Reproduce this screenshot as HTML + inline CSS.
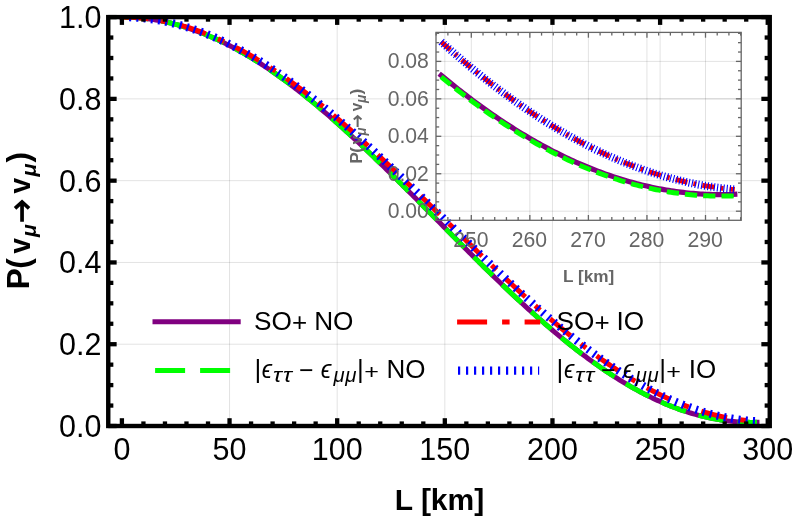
<!DOCTYPE html>
<html><head><meta charset="utf-8"><title>Chart</title>
<style>html,body{margin:0;padding:0;background:#fff;}body{width:793px;height:518px;overflow:hidden;font-family:"Liberation Sans",sans-serif;}</style></head>
<body>
<svg width="793" height="518" viewBox="0 0 793 518" style="display:block;will-change:transform" font-family="'Liberation Sans', sans-serif">
<defs><clipPath id="cm"><rect x="106" y="15" width="666" height="413"/></clipPath></defs>
<rect width="100%" height="100%" fill="#fff"/>
<g stroke="#000" stroke-opacity="0.115" stroke-width="1" fill="none"><line x1="229.54" y1="17.10" x2="229.54" y2="426.00"/><line x1="337.18" y1="17.10" x2="337.18" y2="426.00"/><line x1="444.82" y1="17.10" x2="444.82" y2="426.00"/><line x1="552.46" y1="17.10" x2="552.46" y2="426.00"/><line x1="660.10" y1="17.10" x2="660.10" y2="426.00"/><line x1="108.25" y1="344.22" x2="769.75" y2="344.22"/><line x1="108.25" y1="262.44" x2="769.75" y2="262.44"/><line x1="108.25" y1="180.66" x2="769.75" y2="180.66"/><line x1="108.25" y1="98.88" x2="769.75" y2="98.88"/></g>
<g fill="none" stroke-linejoin="round" clip-path="url(#cm)">
<path d="M121.90,17.10 L124.02,17.11 L126.13,17.15 L128.25,17.20 L130.37,17.28 L132.48,17.38 L134.60,17.51 L136.72,17.65 L138.84,17.82 L140.95,18.01 L143.07,18.23 L145.19,18.47 L147.30,18.72 L149.42,19.01 L151.54,19.31 L153.65,19.64 L155.77,19.98 L157.89,20.36 L160.00,20.75 L162.12,21.16 L164.24,21.60 L166.36,22.06 L168.47,22.54 L170.59,23.05 L172.71,23.57 L174.82,24.12 L176.94,24.69 L179.06,25.28 L181.17,25.89 L183.29,26.52 L185.41,27.18 L187.52,27.86 L189.64,28.56 L191.76,29.28 L193.88,30.02 L195.99,30.78 L198.11,31.56 L200.23,32.37 L202.34,33.19 L204.46,34.04 L206.58,34.90 L208.69,35.79 L210.81,36.70 L212.93,37.63 L215.04,38.57 L217.16,39.54 L219.28,40.53 L221.40,41.54 L223.51,42.57 L225.63,43.62 L227.75,44.69 L229.86,45.77 L231.98,46.88 L234.10,48.01 L236.21,49.15 L238.33,50.32 L240.45,51.50 L242.56,52.70 L244.68,53.92 L246.80,55.16 L248.92,56.42 L251.03,57.69 L253.15,58.99 L255.27,60.30 L257.38,61.63 L259.50,62.97 L261.62,64.34 L263.73,65.72 L265.85,67.12 L267.97,68.53 L270.08,69.97 L272.20,71.42 L274.32,72.88 L276.44,74.36 L278.55,75.86 L280.67,77.38 L282.79,78.91 L284.90,80.45 L287.02,82.02 L289.14,83.59 L291.25,85.19 L293.37,86.79 L295.49,88.41 L297.60,90.05 L299.72,91.70 L301.84,93.37 L303.96,95.05 L306.07,96.74 L308.19,98.45 L310.31,100.17 L312.42,101.90 L314.54,103.65 L316.66,105.41 L318.77,107.18 L320.89,108.97 L323.01,110.77 L325.12,112.57 L327.24,114.40 L329.36,116.23 L331.48,118.08 L333.59,119.93 L335.71,121.80 L337.83,123.68 L339.94,125.57 L342.06,127.47 L344.18,129.38 L346.29,131.30 L348.41,133.23 L350.53,135.17 L352.64,137.11 L354.76,139.07 L356.88,141.04 L359.00,143.01 L361.11,145.00 L363.23,146.99 L365.35,148.99 L367.46,151.00 L369.58,153.02 L371.70,155.04 L373.81,157.07 L375.93,159.11 L378.05,161.16 L380.16,163.21 L382.28,165.26 L384.40,167.33 L386.51,169.40 L388.63,171.47 L390.75,173.55 L392.87,175.64 L394.98,177.73 L397.10,179.83 L399.22,181.92 L401.33,184.03 L403.45,186.14 L405.57,188.25 L407.68,190.36 L409.80,192.48 L411.92,194.60 L414.03,196.73 L416.15,198.85 L418.27,200.98 L420.39,203.12 L422.50,205.25 L424.62,207.38 L426.74,209.52 L428.85,211.66 L430.97,213.79 L433.09,215.93 L435.20,218.07 L437.32,220.21 L439.44,222.35 L441.55,224.49 L443.67,226.63 L445.79,228.77 L447.91,230.90 L450.02,233.04 L452.14,235.17 L454.26,237.31 L456.37,239.44 L458.49,241.56 L460.61,243.69 L462.72,245.81 L464.84,247.93 L466.96,250.05 L469.07,252.16 L471.19,254.27 L473.31,256.38 L475.43,258.48 L477.54,260.58 L479.66,262.67 L481.78,264.76 L483.89,266.85 L486.01,268.92 L488.13,271.00 L490.24,273.06 L492.36,275.12 L494.48,277.18 L496.59,279.23 L498.71,281.27 L500.83,283.30 L502.95,285.33 L505.06,287.35 L507.18,289.37 L509.30,291.37 L511.41,293.37 L513.53,295.36 L515.65,297.34 L517.76,299.31 L519.88,301.27 L522.00,303.23 L524.11,305.17 L526.23,307.11 L528.35,309.03 L530.47,310.95 L532.58,312.85 L534.70,314.75 L536.82,316.63 L538.93,318.51 L541.05,320.37 L543.17,322.22 L545.28,324.06 L547.40,325.89 L549.52,327.71 L551.63,329.51 L553.75,331.30 L555.87,333.08 L557.99,334.85 L560.10,336.60 L562.22,338.34 L564.34,340.07 L566.45,341.79 L568.57,343.49 L570.69,345.18 L572.80,346.85 L574.92,348.51 L577.04,350.15 L579.15,351.78 L581.27,353.40 L583.39,355.00 L585.51,356.58 L587.62,358.15 L589.74,359.71 L591.86,361.25 L593.97,362.77 L596.09,364.28 L598.21,365.77 L600.32,367.25 L602.44,368.71 L604.56,370.15 L606.67,371.57 L608.79,372.98 L610.91,374.37 L613.03,375.75 L615.14,377.10 L617.26,378.44 L619.38,379.76 L621.49,381.07 L623.61,382.35 L625.73,383.62 L627.84,384.87 L629.96,386.10 L632.08,387.31 L634.19,388.51 L636.31,389.68 L638.43,390.84 L640.55,391.97 L642.66,393.09 L644.78,394.19 L646.90,395.27 L649.01,396.33 L651.13,397.37 L653.25,398.39 L655.36,399.39 L657.48,400.37 L659.60,401.33 L661.71,402.27 L663.83,403.19 L665.95,404.08 L668.07,404.96 L670.18,405.82 L672.30,406.66 L674.42,407.47 L676.53,408.27 L678.65,409.04 L680.77,409.79 L682.88,410.53 L685.00,411.24 L687.12,411.93 L689.23,412.59 L691.35,413.24 L693.47,413.86 L695.59,414.47 L697.70,415.05 L699.82,415.61 L701.94,416.14 L704.05,416.66 L706.17,417.15 L708.29,417.63 L710.40,418.08 L712.52,418.50 L714.64,418.91 L716.75,419.29 L718.87,419.65 L720.99,419.99 L723.11,420.31 L725.22,420.60 L727.34,420.87 L729.46,421.12 L731.57,421.35 L733.69,421.55 L735.81,421.74 L737.92,421.90 L740.04,422.03 L742.16,422.15 L744.27,422.24 L746.39,422.31 L748.51,422.35 L750.63,422.38 L752.74,422.38 L754.86,422.36 L756.98,422.31" stroke="#800080" stroke-width="5" stroke-linecap="square"/>
<path d="M121.90,17.10 L124.02,17.11 L126.13,17.15 L128.25,17.20 L130.37,17.28 L132.48,17.38 L134.60,17.51 L136.72,17.65 L138.84,17.82 L140.95,18.01 L143.07,18.23 L145.19,18.47 L147.30,18.72 L149.42,19.01 L151.54,19.31 L153.65,19.64 L155.77,19.98 L157.89,20.36 L160.00,20.75 L162.12,21.16 L164.24,21.60 L166.36,22.06 L168.47,22.54 L170.59,23.05 L172.71,23.57 L174.82,24.12 L176.94,24.69 L179.06,25.28 L181.17,25.89 L183.29,26.52 L185.41,27.18 L187.52,27.86 L189.64,28.56 L191.76,29.28 L193.88,30.02 L195.99,30.78 L198.11,31.56 L200.23,32.37 L202.34,33.19 L204.46,34.04 L206.58,34.90 L208.69,35.79 L210.81,36.70 L212.93,37.63 L215.04,38.57 L217.16,39.54 L219.28,40.53 L221.40,41.54 L223.51,42.57 L225.63,43.62 L227.75,44.69 L229.86,45.77 L231.98,46.88 L234.10,48.01 L236.21,49.15 L238.33,50.32 L240.45,51.50 L242.56,52.70 L244.68,53.92 L246.80,55.16 L248.92,56.42 L251.03,57.69 L253.15,58.99 L255.27,60.30 L257.38,61.63 L259.50,62.97 L261.62,64.34 L263.73,65.72 L265.85,67.12 L267.97,68.53 L270.08,69.97 L272.20,71.42 L274.32,72.88 L276.44,74.36 L278.55,75.86 L280.67,77.38 L282.79,78.91 L284.90,80.45 L287.02,82.02 L289.14,83.59 L291.25,85.19 L293.37,86.79 L295.49,88.41 L297.60,90.05 L299.72,91.70 L301.84,93.37 L303.96,95.05 L306.07,96.74 L308.19,98.45 L310.31,100.17 L312.42,101.90 L314.54,103.65 L316.66,105.41 L318.77,107.18 L320.89,108.97 L323.01,110.77 L325.12,112.57 L327.24,114.40 L329.36,116.23 L331.48,118.08 L333.59,119.93 L335.71,121.80 L337.83,123.68 L339.94,125.57 L342.06,127.47 L344.18,129.38 L346.29,131.30 L348.41,133.23 L350.53,135.17 L352.64,137.11 L354.76,139.07 L356.88,141.04 L359.00,143.01 L361.11,145.00 L363.23,146.99 L365.35,148.99 L367.46,151.00 L369.58,153.02 L371.70,155.04 L373.81,157.07 L375.93,159.11 L378.05,161.16 L380.16,163.21 L382.28,165.26 L384.40,167.33 L386.51,169.40 L388.63,171.47 L390.75,173.55 L392.87,175.64 L394.98,177.73 L397.10,179.83 L399.22,181.92 L401.33,184.03 L403.45,186.14 L405.57,188.25 L407.68,190.36 L409.80,192.48 L411.92,194.60 L414.03,196.73 L416.15,198.85 L418.27,200.98 L420.39,203.12 L422.50,205.25 L424.62,207.38 L426.74,209.52 L428.85,211.66 L430.97,213.79 L433.09,215.93 L435.20,218.07 L437.32,220.21 L439.44,222.35 L441.55,224.49 L443.67,226.63 L445.79,228.77 L447.91,230.90 L450.02,233.04 L452.14,235.17 L454.26,237.31 L456.37,239.44 L458.49,241.56 L460.61,243.69 L462.72,245.81 L464.84,247.93 L466.96,250.05 L469.07,252.16 L471.19,254.27 L473.31,256.38 L475.43,258.48 L477.54,260.58 L479.66,262.67 L481.78,264.76 L483.89,266.85 L486.01,268.92 L488.13,271.00 L490.24,273.06 L492.36,275.12 L494.48,277.18 L496.59,279.23 L498.71,281.27 L500.83,283.30 L502.95,285.33 L505.06,287.35 L507.18,289.37 L509.30,291.37 L511.41,293.37 L513.53,295.36 L515.65,297.34 L517.76,299.31 L519.88,301.27 L522.00,303.23 L524.11,305.17 L526.23,307.11 L528.35,309.03 L530.47,310.95 L532.58,312.85 L534.70,314.75 L536.82,316.63 L538.93,318.51 L541.05,320.37 L543.17,322.22 L545.28,324.06 L547.40,325.89 L549.52,327.71 L551.63,329.51 L553.75,331.30 L555.87,333.08 L557.99,334.85 L560.10,336.60 L562.22,338.34 L564.34,340.07 L566.45,341.79 L568.57,343.49 L570.69,345.18 L572.80,346.85 L574.92,348.51 L577.04,350.15 L579.15,351.78 L581.27,353.40 L583.39,355.00 L585.51,356.58 L587.62,358.15 L589.74,359.71 L591.86,361.25 L593.97,362.77 L596.09,364.28 L598.21,365.77 L600.32,367.25 L602.44,368.71 L604.56,370.15 L606.67,371.57 L608.79,372.98 L610.91,374.37 L613.03,375.75 L615.14,377.10 L617.26,378.44 L619.38,379.76 L621.49,381.07 L623.61,382.35 L625.73,383.62 L627.84,384.87 L629.96,386.10 L632.08,387.31 L634.19,388.51 L636.31,389.68 L638.43,390.84 L640.55,391.97 L642.66,393.09 L644.78,394.19 L646.90,395.27 L649.01,396.33 L651.13,397.37 L653.25,398.39 L655.36,399.39 L657.48,400.37 L659.60,401.33 L661.71,402.27 L663.83,403.19 L665.95,404.08 L668.07,404.96 L670.18,405.82 L672.30,406.66 L674.42,407.47 L676.53,408.27 L678.65,409.04 L680.77,409.79 L682.88,410.53 L685.00,411.24 L687.12,411.93 L689.23,412.59 L691.35,413.24 L693.47,413.86 L695.59,414.47 L697.70,415.05 L699.82,415.61 L701.94,416.14 L704.05,416.66 L706.17,417.15 L708.29,417.63 L710.40,418.08 L712.52,418.50 L714.64,418.91 L716.75,419.29 L718.87,419.65 L720.99,419.99 L723.11,420.31 L725.22,420.60 L727.34,420.87 L729.46,421.12 L731.57,421.35 L733.69,421.55 L735.81,421.74 L737.92,421.90 L740.04,422.03 L742.16,422.15 L744.27,422.24 L746.39,422.31 L748.51,422.35 L750.63,422.38 L752.74,422.38 L754.86,422.36 L756.98,422.31" stroke="#00ff00" stroke-width="5" stroke-dasharray="26.5 13.2"/>
<path d="M121.90,17.10 L124.02,17.11 L126.13,17.14 L128.25,17.20 L130.37,17.27 L132.48,17.37 L134.60,17.49 L136.72,17.63 L138.84,17.79 L140.95,17.97 L143.07,18.17 L145.19,18.40 L147.30,18.64 L149.42,18.91 L151.54,19.20 L153.65,19.51 L155.77,19.84 L157.89,20.20 L160.00,20.57 L162.12,20.97 L164.24,21.38 L166.36,21.82 L168.47,22.28 L170.59,22.76 L172.71,23.26 L174.82,23.78 L176.94,24.32 L179.06,24.88 L181.17,25.46 L183.29,26.07 L185.41,26.69 L187.52,27.34 L189.64,28.00 L191.76,28.69 L193.88,29.39 L195.99,30.12 L198.11,30.86 L200.23,31.63 L202.34,32.41 L204.46,33.22 L206.58,34.04 L208.69,34.89 L210.81,35.75 L212.93,36.64 L215.04,37.54 L217.16,38.47 L219.28,39.41 L221.40,40.37 L223.51,41.35 L225.63,42.35 L227.75,43.37 L229.86,44.40 L231.98,45.46 L234.10,46.53 L236.21,47.62 L238.33,48.73 L240.45,49.86 L242.56,51.01 L244.68,52.17 L246.80,53.35 L248.92,54.55 L251.03,55.77 L253.15,57.01 L255.27,58.26 L257.38,59.53 L259.50,60.81 L261.62,62.11 L263.73,63.43 L265.85,64.77 L267.97,66.12 L270.08,67.49 L272.20,68.88 L274.32,70.28 L276.44,71.69 L278.55,73.13 L280.67,74.57 L282.79,76.04 L284.90,77.51 L287.02,79.01 L289.14,80.52 L291.25,82.04 L293.37,83.58 L295.49,85.13 L297.60,86.70 L299.72,88.28 L301.84,89.87 L303.96,91.48 L306.07,93.10 L308.19,94.74 L310.31,96.38 L312.42,98.05 L314.54,99.72 L316.66,101.41 L318.77,103.11 L320.89,104.82 L323.01,106.54 L325.12,108.28 L327.24,110.03 L329.36,111.79 L331.48,113.56 L333.59,115.34 L335.71,117.13 L337.83,118.94 L339.94,120.75 L342.06,122.58 L344.18,124.41 L346.29,126.26 L348.41,128.11 L350.53,129.98 L352.64,131.85 L354.76,133.74 L356.88,135.63 L359.00,137.53 L361.11,139.44 L363.23,141.36 L365.35,143.29 L367.46,145.22 L369.58,147.17 L371.70,149.12 L373.81,151.07 L375.93,153.04 L378.05,155.01 L380.16,156.99 L382.28,158.98 L384.40,160.97 L386.51,162.97 L388.63,164.97 L390.75,166.98 L392.87,169.00 L394.98,171.02 L397.10,173.05 L399.22,175.08 L401.33,177.12 L403.45,179.16 L405.57,181.20 L407.68,183.25 L409.80,185.30 L411.92,187.36 L414.03,189.42 L416.15,191.48 L418.27,193.55 L420.39,195.62 L422.50,197.69 L424.62,199.76 L426.74,201.84 L428.85,203.91 L430.97,205.99 L433.09,208.07 L435.20,210.15 L437.32,212.24 L439.44,214.32 L441.55,216.40 L443.67,218.49 L445.79,220.57 L447.91,222.66 L450.02,224.74 L452.14,226.82 L454.26,228.91 L456.37,230.99 L458.49,233.07 L460.61,235.15 L462.72,237.22 L464.84,239.30 L466.96,241.37 L469.07,243.44 L471.19,245.51 L473.31,247.57 L475.43,249.64 L477.54,251.70 L479.66,253.75 L481.78,255.80 L483.89,257.85 L486.01,259.90 L488.13,261.94 L490.24,263.97 L492.36,266.00 L494.48,268.03 L496.59,270.05 L498.71,272.06 L500.83,274.07 L502.95,276.07 L505.06,278.07 L507.18,280.06 L509.30,282.05 L511.41,284.02 L513.53,286.00 L515.65,287.96 L517.76,289.92 L519.88,291.87 L522.00,293.81 L524.11,295.74 L526.23,297.67 L528.35,299.58 L530.47,301.49 L532.58,303.39 L534.70,305.28 L536.82,307.16 L538.93,309.04 L541.05,310.90 L543.17,312.75 L545.28,314.60 L547.40,316.43 L549.52,318.25 L551.63,320.06 L553.75,321.87 L555.87,323.66 L557.99,325.44 L560.10,327.21 L562.22,328.96 L564.34,330.71 L566.45,332.44 L568.57,334.16 L570.69,335.87 L572.80,337.57 L574.92,339.25 L577.04,340.92 L579.15,342.58 L581.27,344.23 L583.39,345.86 L585.51,347.48 L587.62,349.08 L589.74,350.68 L591.86,352.25 L593.97,353.82 L596.09,355.36 L598.21,356.90 L600.32,358.42 L602.44,359.92 L604.56,361.41 L606.67,362.89 L608.79,364.35 L610.91,365.79 L613.03,367.22 L615.14,368.64 L617.26,370.03 L619.38,371.41 L621.49,372.78 L623.61,374.13 L625.73,375.46 L627.84,376.78 L629.96,378.07 L632.08,379.36 L634.19,380.62 L636.31,381.87 L638.43,383.10 L640.55,384.31 L642.66,385.51 L644.78,386.69 L646.90,387.85 L649.01,388.99 L651.13,390.12 L653.25,391.22 L655.36,392.31 L657.48,393.38 L659.60,394.43 L661.71,395.46 L663.83,396.48 L665.95,397.47 L668.07,398.45 L670.18,399.40 L672.30,400.34 L674.42,401.26 L676.53,402.16 L678.65,403.04 L680.77,403.90 L682.88,404.74 L685.00,405.56 L687.12,406.36 L689.23,407.14 L691.35,407.91 L693.47,408.65 L695.59,409.37 L697.70,410.07 L699.82,410.75 L701.94,411.41 L704.05,412.05 L706.17,412.67 L708.29,413.27 L710.40,413.85 L712.52,414.41 L714.64,414.94 L716.75,415.46 L718.87,415.95 L720.99,416.43 L723.11,416.88 L725.22,417.31 L727.34,417.73 L729.46,418.12 L731.57,418.49 L733.69,418.83 L735.81,419.16 L737.92,419.47 L740.04,419.75 L742.16,420.01 L744.27,420.26 L746.39,420.48 L748.51,420.67 L750.63,420.85 L752.74,421.01 L754.86,421.14 L756.98,421.26" stroke="#ff0000" stroke-width="5" stroke-dasharray="26.5 13.2 6.6 13.2"/>
<path d="M121.90,17.10 L124.02,17.11 L126.13,17.14 L128.25,17.20 L130.37,17.27 L132.48,17.37 L134.60,17.49 L136.72,17.63 L138.84,17.79 L140.95,17.97 L143.07,18.17 L145.19,18.40 L147.30,18.64 L149.42,18.91 L151.54,19.20 L153.65,19.51 L155.77,19.84 L157.89,20.20 L160.00,20.57 L162.12,20.97 L164.24,21.38 L166.36,21.82 L168.47,22.28 L170.59,22.76 L172.71,23.26 L174.82,23.78 L176.94,24.32 L179.06,24.88 L181.17,25.46 L183.29,26.07 L185.41,26.69 L187.52,27.34 L189.64,28.00 L191.76,28.69 L193.88,29.39 L195.99,30.12 L198.11,30.86 L200.23,31.63 L202.34,32.41 L204.46,33.22 L206.58,34.04 L208.69,34.89 L210.81,35.75 L212.93,36.64 L215.04,37.54 L217.16,38.47 L219.28,39.41 L221.40,40.37 L223.51,41.35 L225.63,42.35 L227.75,43.37 L229.86,44.40 L231.98,45.46 L234.10,46.53 L236.21,47.62 L238.33,48.73 L240.45,49.86 L242.56,51.01 L244.68,52.17 L246.80,53.35 L248.92,54.55 L251.03,55.77 L253.15,57.01 L255.27,58.26 L257.38,59.53 L259.50,60.81 L261.62,62.11 L263.73,63.43 L265.85,64.77 L267.97,66.12 L270.08,67.49 L272.20,68.88 L274.32,70.28 L276.44,71.69 L278.55,73.13 L280.67,74.57 L282.79,76.04 L284.90,77.51 L287.02,79.01 L289.14,80.52 L291.25,82.04 L293.37,83.58 L295.49,85.13 L297.60,86.70 L299.72,88.28 L301.84,89.87 L303.96,91.48 L306.07,93.10 L308.19,94.74 L310.31,96.38 L312.42,98.05 L314.54,99.72 L316.66,101.41 L318.77,103.11 L320.89,104.82 L323.01,106.54 L325.12,108.28 L327.24,110.03 L329.36,111.79 L331.48,113.56 L333.59,115.34 L335.71,117.13 L337.83,118.94 L339.94,120.75 L342.06,122.58 L344.18,124.41 L346.29,126.26 L348.41,128.11 L350.53,129.98 L352.64,131.85 L354.76,133.74 L356.88,135.63 L359.00,137.53 L361.11,139.44 L363.23,141.36 L365.35,143.29 L367.46,145.22 L369.58,147.17 L371.70,149.12 L373.81,151.07 L375.93,153.04 L378.05,155.01 L380.16,156.99 L382.28,158.98 L384.40,160.97 L386.51,162.97 L388.63,164.97 L390.75,166.98 L392.87,169.00 L394.98,171.02 L397.10,173.05 L399.22,175.08 L401.33,177.12 L403.45,179.16 L405.57,181.20 L407.68,183.25 L409.80,185.30 L411.92,187.36 L414.03,189.42 L416.15,191.48 L418.27,193.55 L420.39,195.62 L422.50,197.69 L424.62,199.76 L426.74,201.84 L428.85,203.91 L430.97,205.99 L433.09,208.07 L435.20,210.15 L437.32,212.24 L439.44,214.32 L441.55,216.40 L443.67,218.49 L445.79,220.57 L447.91,222.66 L450.02,224.74 L452.14,226.82 L454.26,228.91 L456.37,230.99 L458.49,233.07 L460.61,235.15 L462.72,237.22 L464.84,239.30 L466.96,241.37 L469.07,243.44 L471.19,245.51 L473.31,247.57 L475.43,249.64 L477.54,251.70 L479.66,253.75 L481.78,255.80 L483.89,257.85 L486.01,259.90 L488.13,261.94 L490.24,263.97 L492.36,266.00 L494.48,268.03 L496.59,270.05 L498.71,272.06 L500.83,274.07 L502.95,276.07 L505.06,278.07 L507.18,280.06 L509.30,282.05 L511.41,284.02 L513.53,286.00 L515.65,287.96 L517.76,289.92 L519.88,291.87 L522.00,293.81 L524.11,295.74 L526.23,297.67 L528.35,299.58 L530.47,301.49 L532.58,303.39 L534.70,305.28 L536.82,307.16 L538.93,309.04 L541.05,310.90 L543.17,312.75 L545.28,314.60 L547.40,316.43 L549.52,318.25 L551.63,320.06 L553.75,321.87 L555.87,323.66 L557.99,325.44 L560.10,327.21 L562.22,328.96 L564.34,330.71 L566.45,332.44 L568.57,334.16 L570.69,335.87 L572.80,337.57 L574.92,339.25 L577.04,340.92 L579.15,342.58 L581.27,344.23 L583.39,345.86 L585.51,347.48 L587.62,349.08 L589.74,350.68 L591.86,352.25 L593.97,353.82 L596.09,355.36 L598.21,356.90 L600.32,358.42 L602.44,359.92 L604.56,361.41 L606.67,362.89 L608.79,364.35 L610.91,365.79 L613.03,367.22 L615.14,368.64 L617.26,370.03 L619.38,371.41 L621.49,372.78 L623.61,374.13 L625.73,375.46 L627.84,376.78 L629.96,378.07 L632.08,379.36 L634.19,380.62 L636.31,381.87 L638.43,383.10 L640.55,384.31 L642.66,385.51 L644.78,386.69 L646.90,387.85 L649.01,388.99 L651.13,390.12 L653.25,391.22 L655.36,392.31 L657.48,393.38 L659.60,394.43 L661.71,395.46 L663.83,396.48 L665.95,397.47 L668.07,398.45 L670.18,399.40 L672.30,400.34 L674.42,401.26 L676.53,402.16 L678.65,403.04 L680.77,403.90 L682.88,404.74 L685.00,405.56 L687.12,406.36 L689.23,407.14 L691.35,407.91 L693.47,408.65 L695.59,409.37 L697.70,410.07 L699.82,410.75 L701.94,411.41 L704.05,412.05 L706.17,412.67 L708.29,413.27 L710.40,413.85 L712.52,414.41 L714.64,414.94 L716.75,415.46 L718.87,415.95 L720.99,416.43 L723.11,416.88 L725.22,417.31 L727.34,417.73 L729.46,418.12 L731.57,418.49 L733.69,418.83 L735.81,419.16 L737.92,419.47 L740.04,419.75 L742.16,420.01 L744.27,420.26 L746.39,420.48 L748.51,420.67 L750.63,420.85 L752.74,421.01 L754.86,421.14 L756.98,421.26" stroke="#0000ff" stroke-width="8.2" stroke-dasharray="2.1 5.2"/>
</g>
<g stroke="#000" fill="none">
<rect x="108.25" y="17.10" width="661.50" height="408.90" stroke-width="4.4"/>
<g stroke-width="4.3"><line x1="121.90" y1="426.00" x2="121.90" y2="418.20"/><line x1="121.90" y1="17.10" x2="121.90" y2="24.90"/><line x1="143.43" y1="426.00" x2="143.43" y2="421.40"/><line x1="143.43" y1="17.10" x2="143.43" y2="21.70"/><line x1="164.96" y1="426.00" x2="164.96" y2="421.40"/><line x1="164.96" y1="17.10" x2="164.96" y2="21.70"/><line x1="186.48" y1="426.00" x2="186.48" y2="421.40"/><line x1="186.48" y1="17.10" x2="186.48" y2="21.70"/><line x1="208.01" y1="426.00" x2="208.01" y2="421.40"/><line x1="208.01" y1="17.10" x2="208.01" y2="21.70"/><line x1="229.54" y1="426.00" x2="229.54" y2="418.20"/><line x1="229.54" y1="17.10" x2="229.54" y2="24.90"/><line x1="251.07" y1="426.00" x2="251.07" y2="421.40"/><line x1="251.07" y1="17.10" x2="251.07" y2="21.70"/><line x1="272.60" y1="426.00" x2="272.60" y2="421.40"/><line x1="272.60" y1="17.10" x2="272.60" y2="21.70"/><line x1="294.12" y1="426.00" x2="294.12" y2="421.40"/><line x1="294.12" y1="17.10" x2="294.12" y2="21.70"/><line x1="315.65" y1="426.00" x2="315.65" y2="421.40"/><line x1="315.65" y1="17.10" x2="315.65" y2="21.70"/><line x1="337.18" y1="426.00" x2="337.18" y2="418.20"/><line x1="337.18" y1="17.10" x2="337.18" y2="24.90"/><line x1="358.71" y1="426.00" x2="358.71" y2="421.40"/><line x1="358.71" y1="17.10" x2="358.71" y2="21.70"/><line x1="380.24" y1="426.00" x2="380.24" y2="421.40"/><line x1="380.24" y1="17.10" x2="380.24" y2="21.70"/><line x1="401.76" y1="426.00" x2="401.76" y2="421.40"/><line x1="401.76" y1="17.10" x2="401.76" y2="21.70"/><line x1="423.29" y1="426.00" x2="423.29" y2="421.40"/><line x1="423.29" y1="17.10" x2="423.29" y2="21.70"/><line x1="444.82" y1="426.00" x2="444.82" y2="418.20"/><line x1="444.82" y1="17.10" x2="444.82" y2="24.90"/><line x1="466.35" y1="426.00" x2="466.35" y2="421.40"/><line x1="466.35" y1="17.10" x2="466.35" y2="21.70"/><line x1="487.88" y1="426.00" x2="487.88" y2="421.40"/><line x1="487.88" y1="17.10" x2="487.88" y2="21.70"/><line x1="509.40" y1="426.00" x2="509.40" y2="421.40"/><line x1="509.40" y1="17.10" x2="509.40" y2="21.70"/><line x1="530.93" y1="426.00" x2="530.93" y2="421.40"/><line x1="530.93" y1="17.10" x2="530.93" y2="21.70"/><line x1="552.46" y1="426.00" x2="552.46" y2="418.20"/><line x1="552.46" y1="17.10" x2="552.46" y2="24.90"/><line x1="573.99" y1="426.00" x2="573.99" y2="421.40"/><line x1="573.99" y1="17.10" x2="573.99" y2="21.70"/><line x1="595.52" y1="426.00" x2="595.52" y2="421.40"/><line x1="595.52" y1="17.10" x2="595.52" y2="21.70"/><line x1="617.04" y1="426.00" x2="617.04" y2="421.40"/><line x1="617.04" y1="17.10" x2="617.04" y2="21.70"/><line x1="638.57" y1="426.00" x2="638.57" y2="421.40"/><line x1="638.57" y1="17.10" x2="638.57" y2="21.70"/><line x1="660.10" y1="426.00" x2="660.10" y2="418.20"/><line x1="660.10" y1="17.10" x2="660.10" y2="24.90"/><line x1="681.63" y1="426.00" x2="681.63" y2="421.40"/><line x1="681.63" y1="17.10" x2="681.63" y2="21.70"/><line x1="703.16" y1="426.00" x2="703.16" y2="421.40"/><line x1="703.16" y1="17.10" x2="703.16" y2="21.70"/><line x1="724.68" y1="426.00" x2="724.68" y2="421.40"/><line x1="724.68" y1="17.10" x2="724.68" y2="21.70"/><line x1="746.21" y1="426.00" x2="746.21" y2="421.40"/><line x1="746.21" y1="17.10" x2="746.21" y2="21.70"/><line x1="767.74" y1="426.00" x2="767.74" y2="418.20"/><line x1="767.74" y1="17.10" x2="767.74" y2="24.90"/><line x1="108.25" y1="426.00" x2="116.65" y2="426.00"/><line x1="769.75" y1="426.00" x2="761.35" y2="426.00"/><line x1="108.25" y1="405.56" x2="113.35" y2="405.56"/><line x1="769.75" y1="405.56" x2="764.65" y2="405.56"/><line x1="108.25" y1="385.11" x2="113.35" y2="385.11"/><line x1="769.75" y1="385.11" x2="764.65" y2="385.11"/><line x1="108.25" y1="364.66" x2="113.35" y2="364.66"/><line x1="769.75" y1="364.66" x2="764.65" y2="364.66"/><line x1="108.25" y1="344.22" x2="116.65" y2="344.22"/><line x1="769.75" y1="344.22" x2="761.35" y2="344.22"/><line x1="108.25" y1="323.77" x2="113.35" y2="323.77"/><line x1="769.75" y1="323.77" x2="764.65" y2="323.77"/><line x1="108.25" y1="303.33" x2="113.35" y2="303.33"/><line x1="769.75" y1="303.33" x2="764.65" y2="303.33"/><line x1="108.25" y1="282.88" x2="113.35" y2="282.88"/><line x1="769.75" y1="282.88" x2="764.65" y2="282.88"/><line x1="108.25" y1="262.44" x2="116.65" y2="262.44"/><line x1="769.75" y1="262.44" x2="761.35" y2="262.44"/><line x1="108.25" y1="242.00" x2="113.35" y2="242.00"/><line x1="769.75" y1="242.00" x2="764.65" y2="242.00"/><line x1="108.25" y1="221.55" x2="113.35" y2="221.55"/><line x1="769.75" y1="221.55" x2="764.65" y2="221.55"/><line x1="108.25" y1="201.10" x2="113.35" y2="201.10"/><line x1="769.75" y1="201.10" x2="764.65" y2="201.10"/><line x1="108.25" y1="180.66" x2="116.65" y2="180.66"/><line x1="769.75" y1="180.66" x2="761.35" y2="180.66"/><line x1="108.25" y1="160.22" x2="113.35" y2="160.22"/><line x1="769.75" y1="160.22" x2="764.65" y2="160.22"/><line x1="108.25" y1="139.77" x2="113.35" y2="139.77"/><line x1="769.75" y1="139.77" x2="764.65" y2="139.77"/><line x1="108.25" y1="119.33" x2="113.35" y2="119.33"/><line x1="769.75" y1="119.33" x2="764.65" y2="119.33"/><line x1="108.25" y1="98.88" x2="116.65" y2="98.88"/><line x1="769.75" y1="98.88" x2="761.35" y2="98.88"/><line x1="108.25" y1="78.44" x2="113.35" y2="78.44"/><line x1="769.75" y1="78.44" x2="764.65" y2="78.44"/><line x1="108.25" y1="57.99" x2="113.35" y2="57.99"/><line x1="769.75" y1="57.99" x2="764.65" y2="57.99"/><line x1="108.25" y1="37.55" x2="113.35" y2="37.55"/><line x1="769.75" y1="37.55" x2="764.65" y2="37.55"/><line x1="108.25" y1="17.10" x2="116.65" y2="17.10"/><line x1="769.75" y1="17.10" x2="761.35" y2="17.10"/></g>
</g>
<g font-size="30.5" fill="#000">
<text x="121.90" y="460.2" text-anchor="middle">0</text>
<text x="229.54" y="460.2" text-anchor="middle">50</text>
<text x="337.18" y="460.2" text-anchor="middle">100</text>
<text x="444.82" y="460.2" text-anchor="middle">150</text>
<text x="552.46" y="460.2" text-anchor="middle">200</text>
<text x="660.10" y="460.2" text-anchor="middle">250</text>
<text x="767.74" y="460.2" text-anchor="middle">300</text>
<text x="101.5" y="436.90" text-anchor="end">0.0</text>
<text x="101.5" y="355.12" text-anchor="end">0.2</text>
<text x="101.5" y="273.34" text-anchor="end">0.4</text>
<text x="101.5" y="191.56" text-anchor="end">0.6</text>
<text x="101.5" y="109.78" text-anchor="end">0.8</text>
<text x="101.5" y="28.00" text-anchor="end">1.0</text>
</g>
<text x="439.5" y="509.8" text-anchor="middle" font-weight="bold" font-size="30">L [km]</text>
<g transform="translate(29.30,287.50) rotate(-90)" fill="#000"><text transform="translate(-1.71,0.00) scale(1.0000,1.0000)" font-size="31.50" font-weight="bold">P</text><text transform="translate(18.73,0.00) scale(1.0000,1.0000)" font-size="31.50" font-weight="bold">(</text><text transform="translate(34.09,0.50) scale(0.8808,0.9400)" font-size="31.50" font-weight="bold">v</text><text transform="translate(50.48,6.90) scale(1.0016,1.0000)" font-size="21.00" font-weight="bold" font-style="italic">μ</text><path d="M65.70,-7.25 L85.51,-7.25 M79.20,-14.25 L85.51,-7.25 L79.20,-0.25" fill="none" stroke="#000" stroke-width="3.70" stroke-linejoin="miter" stroke-miterlimit="10"/><text transform="translate(94.09,0.50) scale(0.8866,0.9400)" font-size="31.50" font-weight="bold">v</text><text transform="translate(110.90,6.90) scale(1.0327,1.0000)" font-size="21.00" font-weight="bold" font-style="italic">μ</text><text transform="translate(124.97,0.00) scale(1.0000,1.0000)" font-size="31.50" font-weight="bold">)</text></g>
<g fill="none">
<line x1="155" y1="321.8" x2="238.2" y2="321.8" stroke="#800080" stroke-width="5" stroke-linecap="square"/>
<line x1="155.1" y1="370.5" x2="238.2" y2="370.5" stroke="#00ff00" stroke-width="5" stroke-dasharray="30 15"/>
<line x1="457.1" y1="321.9" x2="540.2" y2="321.9" stroke="#ff0000" stroke-width="5" stroke-dasharray="30 15 7.5 15"/>
<line x1="458" y1="370.6" x2="539.2" y2="370.6" stroke="#0000ff" stroke-width="8.2" stroke-dasharray="2.2 5.8"/>
</g>
<g font-size="26" fill="#000" style="font-kerning:none">
<text x="254.1" y="329.5" font-size="26.2">SO</text><text x="292.0" y="330.5">+</text><text x="314.2" y="329.5" font-size="26.2">NO</text>
<text x="556.5" y="329.5" font-size="26.2">SO</text><text x="594.4" y="330.5">+</text><text x="616.6" y="329.5" font-size="26.2">IO</text>
<text transform="translate(254.38,377.70) scale(1.0000,1.0000)" font-size="26.00">|</text><text transform="translate(261.75,377.70) scale(0.9005,1.0000)" font-size="26.00" font-style="italic">ϵ</text><text transform="translate(273.12,382.20) scale(1.1964,1.0000)" font-size="20.00" font-style="italic">τ</text><text transform="translate(283.02,382.20) scale(1.1964,1.0000)" font-size="20.00" font-style="italic">τ</text><text transform="translate(298.88,379.10) scale(0.9500,1.0000)" font-size="26.00">−</text><text transform="translate(320.72,377.70) scale(0.9278,1.0000)" font-size="26.00" font-style="italic">ϵ</text><text transform="translate(333.53,382.40) scale(0.9649,1.0000)" font-size="21.00" font-style="italic">μ</text><text transform="translate(345.33,382.40) scale(0.9735,1.0000)" font-size="21.00" font-style="italic">μ</text><text transform="translate(357.08,377.70) scale(1.0000,1.0000)" font-size="26.00">|</text><text transform="translate(364.17,379.00) scale(0.9658,0.8000)" font-size="26.00">+</text><text transform="translate(386.47,377.70) scale(1.0000,1.0000)" font-size="26.00">NO</text>
<text transform="translate(556.58,377.70) scale(1.0000,1.0000)" font-size="26.00">|</text><text transform="translate(563.95,377.70) scale(0.9005,1.0000)" font-size="26.00" font-style="italic">ϵ</text><text transform="translate(575.32,382.20) scale(1.1964,1.0000)" font-size="20.00" font-style="italic">τ</text><text transform="translate(585.22,382.20) scale(1.1964,1.0000)" font-size="20.00" font-style="italic">τ</text><text transform="translate(601.08,379.10) scale(0.9500,1.0000)" font-size="26.00">−</text><text transform="translate(622.92,377.70) scale(0.9278,1.0000)" font-size="26.00" font-style="italic">ϵ</text><text transform="translate(635.73,382.40) scale(0.9649,1.0000)" font-size="21.00" font-style="italic">μ</text><text transform="translate(647.53,382.40) scale(0.9735,1.0000)" font-size="21.00" font-style="italic">μ</text><text transform="translate(659.28,377.70) scale(1.0000,1.0000)" font-size="26.00">|</text><text transform="translate(666.37,379.00) scale(0.9658,0.8000)" font-size="26.00">+</text><text transform="translate(688.70,377.70) scale(1.0000,1.0000)" font-size="26.00">IO</text>
</g>
<g stroke="#000" stroke-opacity="0.115" stroke-width="1" fill="none"><line x1="471.30" y1="32.40" x2="471.30" y2="220.30"/><line x1="529.85" y1="32.40" x2="529.85" y2="220.30"/><line x1="588.40" y1="32.40" x2="588.40" y2="220.30"/><line x1="646.95" y1="32.40" x2="646.95" y2="220.30"/><line x1="705.50" y1="32.40" x2="705.50" y2="220.30"/><line x1="436.00" y1="211.20" x2="741.20" y2="211.20"/><line x1="436.00" y1="173.75" x2="741.20" y2="173.75"/><line x1="436.00" y1="136.30" x2="741.20" y2="136.30"/><line x1="436.00" y1="98.85" x2="741.20" y2="98.85"/><line x1="436.00" y1="61.40" x2="741.20" y2="61.40"/></g>
<g fill="none" stroke-linejoin="round">
<path d="M441.15,75.32 L443.59,77.36 L446.04,79.37 L448.49,81.38 L450.93,83.36 L453.38,85.33 L455.83,87.28 L458.28,89.22 L460.72,91.14 L463.17,93.04 L465.62,94.93 L468.06,96.79 L470.51,98.65 L472.96,100.48 L475.40,102.30 L477.85,104.10 L480.30,105.89 L482.74,107.66 L485.19,109.41 L487.64,111.14 L490.08,112.86 L492.53,114.56 L494.98,116.25 L497.43,117.91 L499.87,119.56 L502.32,121.19 L504.77,122.81 L507.21,124.41 L509.66,125.99 L512.11,127.55 L514.55,129.09 L517.00,130.62 L519.45,132.13 L521.89,133.63 L524.34,135.10 L526.79,136.56 L529.24,138.00 L531.68,139.43 L534.13,140.83 L536.58,142.22 L539.02,143.59 L541.47,144.94 L543.92,146.28 L546.36,147.60 L548.81,148.90 L551.26,150.18 L553.70,151.44 L556.15,152.69 L558.60,153.92 L561.04,155.13 L563.49,156.32 L565.94,157.50 L568.39,158.65 L570.83,159.79 L573.28,160.91 L575.73,162.02 L578.17,163.10 L580.62,164.17 L583.07,165.22 L585.51,166.25 L587.96,167.26 L590.41,168.26 L592.85,169.23 L595.30,170.19 L597.75,171.13 L600.20,172.05 L602.64,172.96 L605.09,173.84 L607.54,174.71 L609.98,175.56 L612.43,176.39 L614.88,177.20 L617.32,178.00 L619.77,178.77 L622.22,179.53 L624.66,180.27 L627.11,180.99 L629.56,181.69 L632.01,182.37 L634.45,183.04 L636.90,183.69 L639.35,184.32 L641.79,184.92 L644.24,185.52 L646.69,186.09 L649.13,186.64 L651.58,187.18 L654.03,187.70 L656.47,188.20 L658.92,188.68 L661.37,189.14 L663.81,189.58 L666.26,190.00 L668.71,190.41 L671.16,190.80 L673.60,191.17 L676.05,191.52 L678.50,191.85 L680.94,192.16 L683.39,192.45 L685.84,192.73 L688.28,192.99 L690.73,193.23 L693.18,193.44 L695.62,193.65 L698.07,193.83 L700.52,193.99 L702.97,194.14 L705.41,194.26 L707.86,194.37 L710.31,194.46 L712.75,194.53 L715.20,194.58 L717.65,194.61 L720.09,194.63 L722.54,194.62 L724.99,194.60 L727.43,194.56 L729.88,194.50 L732.33,194.42 L734.78,194.32" stroke="#800080" stroke-width="5.2" stroke-linecap="square"/>
<path d="M441.15,76.82 L443.59,78.85 L446.04,80.87 L448.49,82.87 L450.93,84.86 L453.38,86.83 L455.83,88.78 L458.28,90.72 L460.72,92.63 L463.17,94.54 L465.62,96.42 L468.06,98.29 L470.51,100.15 L472.96,101.98 L475.40,103.80 L477.85,105.60 L480.30,107.39 L482.74,109.16 L485.19,110.91 L487.64,112.64 L490.08,114.36 L492.53,116.06 L494.98,117.74 L497.43,119.41 L499.87,121.06 L502.32,122.69 L504.77,124.31 L507.21,125.90 L509.66,127.48 L512.11,129.05 L514.55,130.59 L517.00,132.12 L519.45,133.63 L521.89,135.13 L524.34,136.60 L526.79,138.06 L529.24,139.50 L531.68,140.92 L534.13,142.33 L536.58,143.72 L539.02,145.09 L541.47,146.44 L543.92,147.78 L546.36,149.10 L548.81,150.40 L551.26,151.68 L553.70,152.94 L556.15,154.19 L558.60,155.42 L561.04,156.63 L563.49,157.82 L565.94,159.00 L568.39,160.15 L570.83,161.29 L573.28,162.41 L575.73,163.52 L578.17,164.60 L580.62,165.67 L583.07,166.72 L585.51,167.75 L587.96,168.76 L590.41,169.76 L592.85,170.73 L595.30,171.69 L597.75,172.63 L600.20,173.55 L602.64,174.46 L605.09,175.34 L607.54,176.21 L609.98,177.06 L612.43,177.89 L614.88,178.70 L617.32,179.49 L619.77,180.27 L622.22,181.03 L624.66,181.77 L627.11,182.49 L629.56,183.19 L632.01,183.87 L634.45,184.54 L636.90,185.18 L639.35,185.81 L641.79,186.42 L644.24,187.01 L646.69,187.59 L649.13,188.14 L651.58,188.68 L654.03,189.19 L656.47,189.69 L658.92,190.17 L661.37,190.63 L663.81,191.08 L666.26,191.50 L668.71,191.91 L671.16,192.30 L673.60,192.66 L676.05,193.01 L678.50,193.35 L680.94,193.66 L683.39,193.95 L685.84,194.23 L688.28,194.48 L690.73,194.72 L693.18,194.94 L695.62,195.14 L698.07,195.33 L700.52,195.49 L702.97,195.63 L705.41,195.76 L707.86,195.87 L710.31,195.96 L712.75,196.03 L715.20,196.08 L717.65,196.11 L720.09,196.13 L722.54,196.12 L724.99,196.10 L727.43,196.06 L729.88,196.00 L732.33,195.92 L734.78,195.82" stroke="#00ff00" stroke-width="5" stroke-dasharray="12.2 6.1"/>
<path d="M441.15,41.72 L443.59,43.92 L446.04,46.10 L448.49,48.27 L450.93,50.42 L453.38,52.56 L455.83,54.69 L458.28,56.79 L460.72,58.89 L463.17,60.97 L465.62,63.03 L468.06,65.07 L470.51,67.11 L472.96,69.12 L475.40,71.12 L477.85,73.11 L480.30,75.08 L482.74,77.03 L485.19,78.97 L487.64,80.89 L490.08,82.80 L492.53,84.69 L494.98,86.57 L497.43,88.43 L499.87,90.27 L502.32,92.10 L504.77,93.92 L507.21,95.71 L509.66,97.49 L512.11,99.26 L514.55,101.01 L517.00,102.74 L519.45,104.46 L521.89,106.16 L524.34,107.84 L526.79,109.51 L529.24,111.16 L531.68,112.80 L534.13,114.42 L536.58,116.02 L539.02,117.61 L541.47,119.18 L543.92,120.73 L546.36,122.27 L548.81,123.79 L551.26,125.29 L553.70,126.78 L556.15,128.25 L558.60,129.71 L561.04,131.15 L563.49,132.57 L565.94,133.97 L568.39,135.36 L570.83,136.73 L573.28,138.09 L575.73,139.43 L578.17,140.75 L580.62,142.05 L583.07,143.34 L585.51,144.61 L587.96,145.87 L590.41,147.10 L592.85,148.32 L595.30,149.53 L597.75,150.71 L600.20,151.88 L602.64,153.03 L605.09,154.17 L607.54,155.29 L609.98,156.39 L612.43,157.47 L614.88,158.54 L617.32,159.59 L619.77,160.62 L622.22,161.64 L624.66,162.64 L627.11,163.62 L629.56,164.58 L632.01,165.53 L634.45,166.45 L636.90,167.37 L639.35,168.26 L641.79,169.14 L644.24,170.00 L646.69,170.84 L649.13,171.66 L651.58,172.47 L654.03,173.26 L656.47,174.03 L658.92,174.79 L661.37,175.53 L663.81,176.25 L666.26,176.95 L668.71,177.64 L671.16,178.30 L673.60,178.95 L676.05,179.59 L678.50,180.20 L680.94,180.80 L683.39,181.38 L685.84,181.94 L688.28,182.49 L690.73,183.01 L693.18,183.52 L695.62,184.01 L698.07,184.49 L700.52,184.95 L702.97,185.38 L705.41,185.81 L707.86,186.21 L710.31,186.59 L712.75,186.96 L715.20,187.31 L717.65,187.65 L720.09,187.96 L722.54,188.26 L724.99,188.54 L727.43,188.80 L729.88,189.04 L732.33,189.27 L734.78,189.48" stroke="#ff0000" stroke-width="4.8" stroke-dasharray="12.2 6.1 3.05 6.1"/>
<path d="M441.15,41.72 L443.59,43.92 L446.04,46.10 L448.49,48.27 L450.93,50.42 L453.38,52.56 L455.83,54.69 L458.28,56.79 L460.72,58.89 L463.17,60.97 L465.62,63.03 L468.06,65.07 L470.51,67.11 L472.96,69.12 L475.40,71.12 L477.85,73.11 L480.30,75.08 L482.74,77.03 L485.19,78.97 L487.64,80.89 L490.08,82.80 L492.53,84.69 L494.98,86.57 L497.43,88.43 L499.87,90.27 L502.32,92.10 L504.77,93.92 L507.21,95.71 L509.66,97.49 L512.11,99.26 L514.55,101.01 L517.00,102.74 L519.45,104.46 L521.89,106.16 L524.34,107.84 L526.79,109.51 L529.24,111.16 L531.68,112.80 L534.13,114.42 L536.58,116.02 L539.02,117.61 L541.47,119.18 L543.92,120.73 L546.36,122.27 L548.81,123.79 L551.26,125.29 L553.70,126.78 L556.15,128.25 L558.60,129.71 L561.04,131.15 L563.49,132.57 L565.94,133.97 L568.39,135.36 L570.83,136.73 L573.28,138.09 L575.73,139.43 L578.17,140.75 L580.62,142.05 L583.07,143.34 L585.51,144.61 L587.96,145.87 L590.41,147.10 L592.85,148.32 L595.30,149.53 L597.75,150.71 L600.20,151.88 L602.64,153.03 L605.09,154.17 L607.54,155.29 L609.98,156.39 L612.43,157.47 L614.88,158.54 L617.32,159.59 L619.77,160.62 L622.22,161.64 L624.66,162.64 L627.11,163.62 L629.56,164.58 L632.01,165.53 L634.45,166.45 L636.90,167.37 L639.35,168.26 L641.79,169.14 L644.24,170.00 L646.69,170.84 L649.13,171.66 L651.58,172.47 L654.03,173.26 L656.47,174.03 L658.92,174.79 L661.37,175.53 L663.81,176.25 L666.26,176.95 L668.71,177.64 L671.16,178.30 L673.60,178.95 L676.05,179.59 L678.50,180.20 L680.94,180.80 L683.39,181.38 L685.84,181.94 L688.28,182.49 L690.73,183.01 L693.18,183.52 L695.62,184.01 L698.07,184.49 L700.52,184.95 L702.97,185.38 L705.41,185.81 L707.86,186.21 L710.31,186.59 L712.75,186.96 L715.20,187.31 L717.65,187.65 L720.09,187.96 L722.54,188.26 L724.99,188.54 L727.43,188.80 L729.88,189.04 L732.33,189.27 L734.78,189.48" stroke="#0000ff" stroke-width="8" stroke-dasharray="1.1 2.1"/>
</g>
<g stroke="#666666" fill="none" stroke-width="1.3">
<rect x="436.00" y="32.40" width="305.20" height="187.90"/>
<line x1="436.17" y1="220.30" x2="436.17" y2="217.10"/><line x1="436.17" y1="32.40" x2="436.17" y2="35.60"/><line x1="447.88" y1="220.30" x2="447.88" y2="217.10"/><line x1="447.88" y1="32.40" x2="447.88" y2="35.60"/><line x1="459.59" y1="220.30" x2="459.59" y2="217.10"/><line x1="459.59" y1="32.40" x2="459.59" y2="35.60"/><line x1="471.30" y1="220.30" x2="471.30" y2="215.00"/><line x1="471.30" y1="32.40" x2="471.30" y2="37.70"/><line x1="483.01" y1="220.30" x2="483.01" y2="217.10"/><line x1="483.01" y1="32.40" x2="483.01" y2="35.60"/><line x1="494.72" y1="220.30" x2="494.72" y2="217.10"/><line x1="494.72" y1="32.40" x2="494.72" y2="35.60"/><line x1="506.43" y1="220.30" x2="506.43" y2="217.10"/><line x1="506.43" y1="32.40" x2="506.43" y2="35.60"/><line x1="518.14" y1="220.30" x2="518.14" y2="217.10"/><line x1="518.14" y1="32.40" x2="518.14" y2="35.60"/><line x1="529.85" y1="220.30" x2="529.85" y2="215.00"/><line x1="529.85" y1="32.40" x2="529.85" y2="37.70"/><line x1="541.56" y1="220.30" x2="541.56" y2="217.10"/><line x1="541.56" y1="32.40" x2="541.56" y2="35.60"/><line x1="553.27" y1="220.30" x2="553.27" y2="217.10"/><line x1="553.27" y1="32.40" x2="553.27" y2="35.60"/><line x1="564.98" y1="220.30" x2="564.98" y2="217.10"/><line x1="564.98" y1="32.40" x2="564.98" y2="35.60"/><line x1="576.69" y1="220.30" x2="576.69" y2="217.10"/><line x1="576.69" y1="32.40" x2="576.69" y2="35.60"/><line x1="588.40" y1="220.30" x2="588.40" y2="215.00"/><line x1="588.40" y1="32.40" x2="588.40" y2="37.70"/><line x1="600.11" y1="220.30" x2="600.11" y2="217.10"/><line x1="600.11" y1="32.40" x2="600.11" y2="35.60"/><line x1="611.82" y1="220.30" x2="611.82" y2="217.10"/><line x1="611.82" y1="32.40" x2="611.82" y2="35.60"/><line x1="623.53" y1="220.30" x2="623.53" y2="217.10"/><line x1="623.53" y1="32.40" x2="623.53" y2="35.60"/><line x1="635.24" y1="220.30" x2="635.24" y2="217.10"/><line x1="635.24" y1="32.40" x2="635.24" y2="35.60"/><line x1="646.95" y1="220.30" x2="646.95" y2="215.00"/><line x1="646.95" y1="32.40" x2="646.95" y2="37.70"/><line x1="658.66" y1="220.30" x2="658.66" y2="217.10"/><line x1="658.66" y1="32.40" x2="658.66" y2="35.60"/><line x1="670.37" y1="220.30" x2="670.37" y2="217.10"/><line x1="670.37" y1="32.40" x2="670.37" y2="35.60"/><line x1="682.08" y1="220.30" x2="682.08" y2="217.10"/><line x1="682.08" y1="32.40" x2="682.08" y2="35.60"/><line x1="693.79" y1="220.30" x2="693.79" y2="217.10"/><line x1="693.79" y1="32.40" x2="693.79" y2="35.60"/><line x1="705.50" y1="220.30" x2="705.50" y2="215.00"/><line x1="705.50" y1="32.40" x2="705.50" y2="37.70"/><line x1="717.21" y1="220.30" x2="717.21" y2="217.10"/><line x1="717.21" y1="32.40" x2="717.21" y2="35.60"/><line x1="728.92" y1="220.30" x2="728.92" y2="217.10"/><line x1="728.92" y1="32.40" x2="728.92" y2="35.60"/><line x1="740.63" y1="220.30" x2="740.63" y2="217.10"/><line x1="740.63" y1="32.40" x2="740.63" y2="35.60"/><line x1="436.00" y1="211.20" x2="441.30" y2="211.20"/><line x1="741.20" y1="211.20" x2="735.90" y2="211.20"/><line x1="436.00" y1="201.84" x2="439.20" y2="201.84"/><line x1="741.20" y1="201.84" x2="738.00" y2="201.84"/><line x1="436.00" y1="192.47" x2="439.20" y2="192.47"/><line x1="741.20" y1="192.47" x2="738.00" y2="192.47"/><line x1="436.00" y1="183.11" x2="439.20" y2="183.11"/><line x1="741.20" y1="183.11" x2="738.00" y2="183.11"/><line x1="436.00" y1="173.75" x2="441.30" y2="173.75"/><line x1="741.20" y1="173.75" x2="735.90" y2="173.75"/><line x1="436.00" y1="164.39" x2="439.20" y2="164.39"/><line x1="741.20" y1="164.39" x2="738.00" y2="164.39"/><line x1="436.00" y1="155.02" x2="439.20" y2="155.02"/><line x1="741.20" y1="155.02" x2="738.00" y2="155.02"/><line x1="436.00" y1="145.66" x2="439.20" y2="145.66"/><line x1="741.20" y1="145.66" x2="738.00" y2="145.66"/><line x1="436.00" y1="136.30" x2="441.30" y2="136.30"/><line x1="741.20" y1="136.30" x2="735.90" y2="136.30"/><line x1="436.00" y1="126.94" x2="439.20" y2="126.94"/><line x1="741.20" y1="126.94" x2="738.00" y2="126.94"/><line x1="436.00" y1="117.57" x2="439.20" y2="117.57"/><line x1="741.20" y1="117.57" x2="738.00" y2="117.57"/><line x1="436.00" y1="108.21" x2="439.20" y2="108.21"/><line x1="741.20" y1="108.21" x2="738.00" y2="108.21"/><line x1="436.00" y1="98.85" x2="441.30" y2="98.85"/><line x1="741.20" y1="98.85" x2="735.90" y2="98.85"/><line x1="436.00" y1="89.49" x2="439.20" y2="89.49"/><line x1="741.20" y1="89.49" x2="738.00" y2="89.49"/><line x1="436.00" y1="80.12" x2="439.20" y2="80.12"/><line x1="741.20" y1="80.12" x2="738.00" y2="80.12"/><line x1="436.00" y1="70.76" x2="439.20" y2="70.76"/><line x1="741.20" y1="70.76" x2="738.00" y2="70.76"/><line x1="436.00" y1="61.40" x2="441.30" y2="61.40"/><line x1="741.20" y1="61.40" x2="735.90" y2="61.40"/><line x1="436.00" y1="52.04" x2="439.20" y2="52.04"/><line x1="741.20" y1="52.04" x2="738.00" y2="52.04"/><line x1="436.00" y1="42.67" x2="439.20" y2="42.67"/><line x1="741.20" y1="42.67" x2="738.00" y2="42.67"/><line x1="436.00" y1="33.31" x2="439.20" y2="33.31"/><line x1="741.20" y1="33.31" x2="738.00" y2="33.31"/>
</g>
<g font-size="21.2" fill="#666666">
<text x="470.90" y="247.2" text-anchor="middle">250</text>
<text x="529.45" y="247.2" text-anchor="middle">260</text>
<text x="588.00" y="247.2" text-anchor="middle">270</text>
<text x="646.55" y="247.2" text-anchor="middle">280</text>
<text x="705.10" y="247.2" text-anchor="middle">290</text>
<text x="428.9" y="218.20" text-anchor="end">0.00</text>
<text x="428.9" y="180.75" text-anchor="end">0.02</text>
<text x="428.9" y="143.30" text-anchor="end">0.04</text>
<text x="428.9" y="105.85" text-anchor="end">0.06</text>
<text x="428.9" y="68.40" text-anchor="end">0.08</text>
</g>
<text x="588.7" y="282.2" text-anchor="middle" font-weight="bold" font-size="17.2" fill="#666666">L [km]</text>
<g transform="translate(361.60,162.90) rotate(-90)" fill="#666666"><text transform="translate(-0.94,0.00) scale(1.0000,1.0000)" font-size="17.26" font-weight="bold">P</text><text transform="translate(10.26,0.00) scale(1.0000,1.0000)" font-size="17.26" font-weight="bold">(</text><text transform="translate(18.68,0.27) scale(0.8808,0.9400)" font-size="17.26" font-weight="bold">v</text><text transform="translate(27.43,4.30) scale(0.9185,1.0000)" font-size="14.30" font-weight="bold" font-style="italic">μ</text><path d="M36.00,-3.97 L46.86,-3.97 M43.40,-7.81 L46.86,-3.97 L43.40,-0.14" fill="none" stroke="#666666" stroke-width="2.03" stroke-linejoin="miter" stroke-miterlimit="10"/><text transform="translate(51.56,0.27) scale(0.8866,0.9400)" font-size="17.26" font-weight="bold">v</text><text transform="translate(59.83,4.30) scale(0.9685,1.0000)" font-size="14.30" font-weight="bold" font-style="italic">μ</text><text transform="translate(68.48,0.00) scale(1.0000,1.0000)" font-size="17.26" font-weight="bold">)</text></g>
</svg>
</body></html>
